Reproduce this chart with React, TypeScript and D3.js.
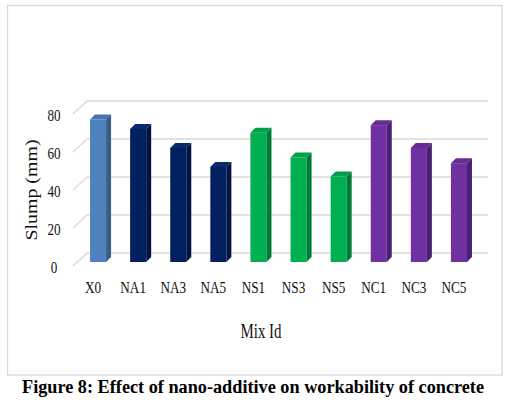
import React from 'react';
import * as d3 from 'd3';

const mixIds = ['X0', 'NA1', 'NA3', 'NA5', 'NS1', 'NS3', 'NS5', 'NC1', 'NC3', 'NC5'];
const slump = [75, 70, 60, 50, 68, 55, 45, 72, 60, 52];
const groups = ['X', 'NA', 'NA', 'NA', 'NS', 'NS', 'NS', 'NC', 'NC', 'NC'];
const yTicks = [0, 20, 40, 60, 80];

const palette: Record<string, { front: string; top: string; side: string }> = {
  X: { front: '#4f81bd', top: '#4874ad', side: '#385d8a' },
  NA: { front: '#002060', top: '#0a2a6c', side: '#001540' },
  NS: { front: '#00b050', top: '#00a049', side: '#007a37' },
  NC: { front: '#7030a0', top: '#672c94', side: '#4b2070' },
};

const W = 509;
const H = 403;
const serif = '"Liberation Serif", "Times New Roman", serif';

// 3D offsets: back wall depth and bar position / depth
const wallDx = 14;
const wallDy = 13;
const barOff = 4;
const barDepth = 5;

const App: React.FC = () => {
  const x = d3.scaleBand<string>().domain(mixIds).range([74, 475]).paddingInner(0.6).paddingOuter(0.3);
  const y = d3.scaleLinear().domain([0, 80]).range([266, 114]);
  const bw = x.bandwidth();

  return (
    <svg
      width={W}
      height={H}
      style={{ position: 'absolute', left: 0, top: 0, background: '#fff' }}
      fontFamily={serif}
    >
      <rect x={7.5} y={5.5} width={494.5} height={369.5} fill="#fff" stroke="#d9d9d9" strokeWidth={1.3} />

      {/* gridlines on the back wall plus the diagonals to the front */}
      {yTicks.map((t) => (
        <g key={t} stroke="#d9d9d9" strokeWidth={1.4} fill="none">
          <line x1={73 + wallDx} x2={488} y1={y(t) - wallDy} y2={y(t) - wallDy} />
          <line x1={73} x2={73 + wallDx} y1={y(t)} y2={y(t) - wallDy} />
        </g>
      ))}

      {/* 3D columns */}
      {mixIds.map((id, i) => {
        const c = palette[groups[i]];
        const x0 = (x(id) as number) + barOff;
        const yt = y(slump[i]) - barOff;
        const yb = y(0) - barOff;
        const d = barDepth;
        return (
          <g key={id}>
            <rect x={x0} y={yt} width={bw} height={yb - yt} fill={c.front} />
            <polygon
              points={`${x0},${yt} ${x0 + d},${yt - d} ${x0 + bw + d},${yt - d} ${x0 + bw},${yt}`}
              fill={c.top}
            />
            <polygon
              points={`${x0 + bw},${yt} ${x0 + bw + d},${yt - d} ${x0 + bw + d},${yb - d} ${x0 + bw},${yb}`}
              fill={c.side}
            />
          </g>
        );
      })}

      {/* y tick labels */}
      {yTicks.map((t) => (
        <text
          key={t}
          transform={`translate(54,${y(t) + 6.5}) scale(0.82,1)`}
          textAnchor="middle"
          fontSize={16}
          fill="#111"
        >
          {t}
        </text>
      ))}

      {/* x tick labels */}
      {mixIds.map((id) => (
        <text
          key={id}
          transform={`translate(${(x(id) as number) + bw / 2 - 1},293) scale(0.8,1)`}
          textAnchor="middle"
          fontSize={16.5}
          fill="#111"
        >
          {id}
        </text>
      ))}

      <text
        transform="translate(37,190) rotate(-90) scale(1,0.8)"
        textAnchor="middle"
        fontSize={20}
        fill="#111"
        textLength={101}
        lengthAdjust="spacingAndGlyphs"
      >
        Slump (mm)
      </text>

      <text
        x={261}
        y={338}
        textAnchor="middle"
        fontSize={21}
        fill="#111"
        textLength={41}
        lengthAdjust="spacingAndGlyphs"
      >
        Mix Id
      </text>

      <text
        x={253}
        y={393}
        textAnchor="middle"
        fontSize={18}
        fontWeight="bold"
        fill="#000"
        textLength={462}
        lengthAdjust="spacingAndGlyphs"
      >
        Figure 8: Effect of nano-additive on workability of concrete
      </text>
    </svg>
  );
};

export default App;
